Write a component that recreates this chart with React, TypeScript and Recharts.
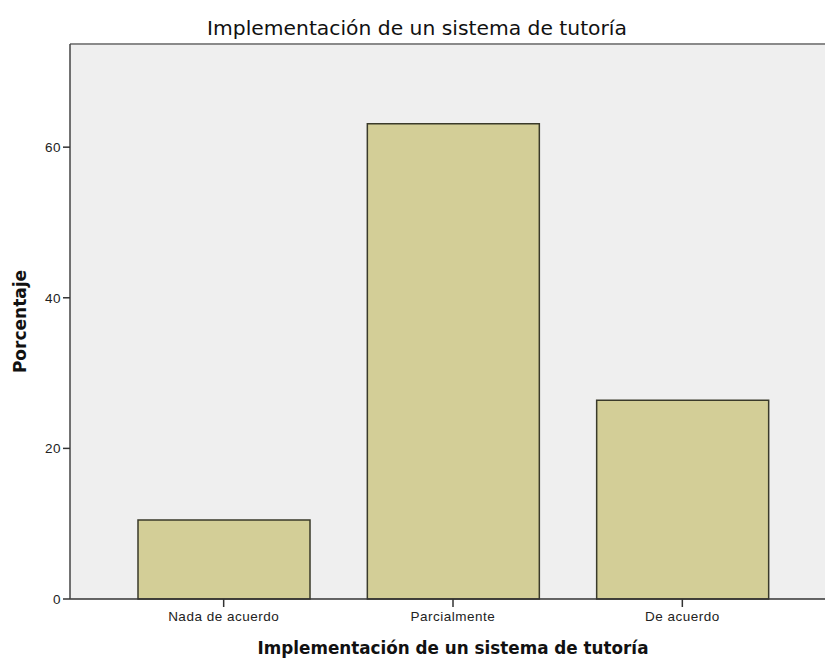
import { BarChart, Bar, XAxis, YAxis, CartesianGrid, ReferenceLine, Label } from 'recharts';

const categories = ['Nada de acuerdo', 'Parcialmente', 'De acuerdo'];
const percentages = [10.5, 63.1, 26.4];
const yTicks = [0, 20, 40, 60];
const yMax = 73.7;

const title = 'Implementación de un sistema de tutoría';

const data = categories.map((name, i) => ({ name, value: percentages[i] }));

const tickFont = { fontSize: 13.5, fill: '#222', fontFamily: '"Liberation Sans", Arial, sans-serif', letterSpacing: 0.5 };
const axisTitleFont = { fontSize: 16.8, fontWeight: 'bold', fill: '#111', fontFamily: '"DejaVu Sans", sans-serif' };

export default function App() {
  return (
    <div style={{ position: 'absolute', left: 0, top: 0, width: 825, height: 658, overflow: 'hidden', background: '#fff' }}>
      <span
        style={{
          position: 'absolute',
          left: 417,
          top: 16,
          transform: 'translateX(-50%)',
          whiteSpace: 'nowrap',
          fontFamily: '"DejaVu Sans", sans-serif',
          fontSize: 20.3,
          lineHeight: '24px',
          color: '#111',
        }}
      >
        {title}
      </span>
      <BarChart
        width={840}
        height={658}
        data={data}
        margin={{ top: 44, right: 4, bottom: 29, left: 0 }}
        barSize={172}
      >
        <CartesianGrid fill="#efefef" horizontal={false} vertical={false} stroke="none" />
        <ReferenceLine y={yMax} stroke="#8a8a8a" strokeWidth={2} ifOverflow="extendDomain" />
        <XAxis
          dataKey="name"
          padding={{ left: 39, right: 39 }}
          axisLine={{ stroke: '#333', strokeWidth: 1.5 }}
          tickLine={{ stroke: '#333', strokeWidth: 1.5 }}
          tickSize={8}
          tickMargin={4}
          tick={tickFont}
          interval={0}
        >
          <Label value={title} position="bottom" offset={13} style={axisTitleFont} />
        </XAxis>
        <YAxis
          width={70}
          domain={[0, yMax]}
          ticks={yTicks}
          axisLine={{ stroke: '#444', strokeWidth: 1.5 }}
          tickLine={{ stroke: '#333', strokeWidth: 1.5 }}
          tickSize={7}
          tickMargin={2}
          tick={tickFont}
        >
          <Label
            value="Porcentaje"
            angle={-90}
            position="insideLeft"
            offset={20}
            style={{ ...axisTitleFont, fontSize: 17, textAnchor: 'middle' }}
          />
        </YAxis>
        <Bar dataKey="value" fill="#d3ce97" stroke="#3a3a2a" strokeWidth={1.5} isAnimationActive={false} />
      </BarChart>
    </div>
  );
}
